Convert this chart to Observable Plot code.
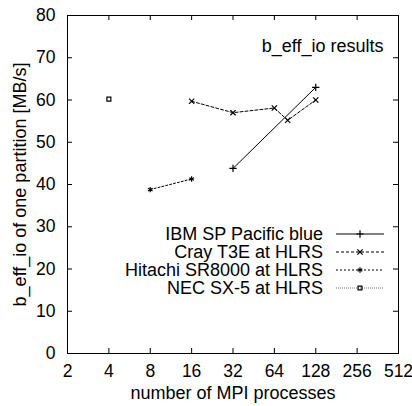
<!DOCTYPE html>
<html>
<head>
<meta charset="utf-8">
<script src="https://cdn.jsdelivr.net/npm/d3@7"></script>
<script src="https://cdn.jsdelivr.net/npm/@observablehq/plot@0.6"></script>
<style>
  html, body { margin: 0; padding: 0; background: #fff; }
  svg { font-family: "Liberation Sans", Arial, sans-serif; }
</style>
</head>
<body>
<div id="chart"></div>
<script>
// ---- data ----
const seriesNames = ["IBM SP Pacific blue", "Cray T3E at HLRS", "Hitachi SR8000 at HLRS", "NEC SX-5 at HLRS"];
const ibmProcs = [32, 128];
const ibmValues = [43.8, 63.0];
const crayProcs = [16, 32, 64, 80, 128];
const crayValues = [59.7, 57.0, 58.1, 55.2, 60.0];
const hitachiProcs = [8, 16];
const hitachiValues = [38.8, 41.3];
const necProcs = [4];
const necValues = [60.2];
const xTicks = [2, 4, 8, 16, 32, 64, 128, 256, 512];
const yTicks = [0, 10, 20, 30, 40, 50, 60, 70, 80];

const toRows = (xs, ys) => xs.map((x, i) => ({x, y: ys[i]}));
const series = [
  {name: seriesNames[0], rows: toRows(ibmProcs, ibmValues), dash: null, stroke: "#000", symbol: "plus"},
  {name: seriesNames[1], rows: toRows(crayProcs, crayValues), dash: "3,2", stroke: "#000", symbol: "times"},
  {name: seriesNames[2], rows: toRows(hitachiProcs, hitachiValues), dash: "2,2", stroke: "#000", symbol: "asterisk"},
  {name: seriesNames[3], rows: toRows(necProcs, necValues), dash: "1,1", stroke: "#777", symbol: "square2"}
];

const W = 412, H = 406;
const mL = 67, mR = 14, mT = 15, mB = 53;
const plotH = H - mT - mB, plotW = W - mL - mR;
const tick = 5;
const font = 18;
const tickFont = 17.5;
const dotR = 2.5;

const marks = [
  Plot.frame({stroke: "#000", strokeWidth: 1}),
  // inward ticks, mirrored on all sides
  Plot.tickX(xTicks, {x: d => d, insetTop: plotH - tick, stroke: "#000"}),
  Plot.tickX(xTicks, {x: d => d, insetBottom: plotH - tick, stroke: "#000"}),
  Plot.tickY(yTicks, {y: d => d, insetRight: plotW - tick, stroke: "#000"}),
  Plot.tickY(yTicks, {y: d => d, insetLeft: plotW - tick, stroke: "#000"}),
  // tick labels
  Plot.text(xTicks, {x: d => d, text: d => String(d), frameAnchor: "bottom", lineAnchor: "middle", textAnchor: "middle", dy: 18, fontSize: tickFont, fill: "#000"}),
  Plot.text(yTicks, {y: d => d, text: d => String(d), frameAnchor: "left", lineAnchor: "middle", dx: -12, textAnchor: "end", fontSize: tickFont, fill: "#000"}),
  // axis labels
  Plot.text(["number of MPI processes"], {frameAnchor: "bottom", lineAnchor: "middle", textAnchor: "middle", dy: 40, fontSize: font, fill: "#000"}),
  Plot.text(["b_eff_io of one partition [MB/s]"], {frameAnchor: "left", lineAnchor: "middle", textAnchor: "middle", dx: -47, rotate: -90, fontSize: font, fill: "#000"}),
  // title
  Plot.text(["b_eff_io results"], {frameAnchor: "top-right", lineAnchor: "middle", dx: -15, dy: 31, textAnchor: "end", fontSize: font, fill: "#000"})
];

for (const s of series) {
  marks.push(Plot.line(s.rows, {x: "x", y: "y", stroke: s.stroke, strokeWidth: 1, strokeDasharray: s.dash}));
  marks.push(Plot.dot(s.rows, {x: "x", y: "y", symbol: () => s.symbol, stroke: "#000", strokeWidth: 1.2, r: dotR}));
}

const chart = Plot.plot({
  width: W, height: H,
  marginLeft: mL, marginRight: mR, marginTop: mT, marginBottom: mB,
  style: {fontFamily: '"Liberation Sans", Arial, sans-serif', fontSize: font + "px", background: "#fff", overflow: "visible"},
  x: {type: "log", base: 2, domain: [2, 512], axis: null},
  y: {domain: [0, 80], axis: null},
  symbol: {type: "identity"},
  marks
});
document.getElementById("chart").appendChild(chart);

// legend inside the plot (top-right block)
const svg = d3.select(chart);
const g = svg.append("g").attr("font-size", font).attr("font-family", '"Liberation Sans", Arial, sans-serif');
const textX = 323, s0 = 336, s1 = 384, y0 = 234, dyRow = 18;
series.forEach((s, i) => {
  const yy = y0 + i * dyRow;
  g.append("text").attr("x", textX).attr("y", yy).attr("dy", "0.35em").attr("text-anchor", "end").attr("fill", "#000").text(s.name);
  g.append("line").attr("x1", s0).attr("x2", s1).attr("y1", yy).attr("y2", yy)
    .attr("stroke", s.stroke).attr("stroke-width", 1).attr("stroke-dasharray", s.dash);
  const sym = {plus: d3.symbolPlus, times: d3.symbolTimes, asterisk: d3.symbolAsterisk, square2: d3.symbolSquare2}[s.symbol];
  g.append("path").attr("d", d3.symbol(sym, Math.PI * dotR * dotR)()).attr("transform", `translate(${(s0 + s1) / 2},${yy})`)
    .attr("fill", "none").attr("stroke", "#000").attr("stroke-width", 1.2);
});
</script>
</body>
</html>
